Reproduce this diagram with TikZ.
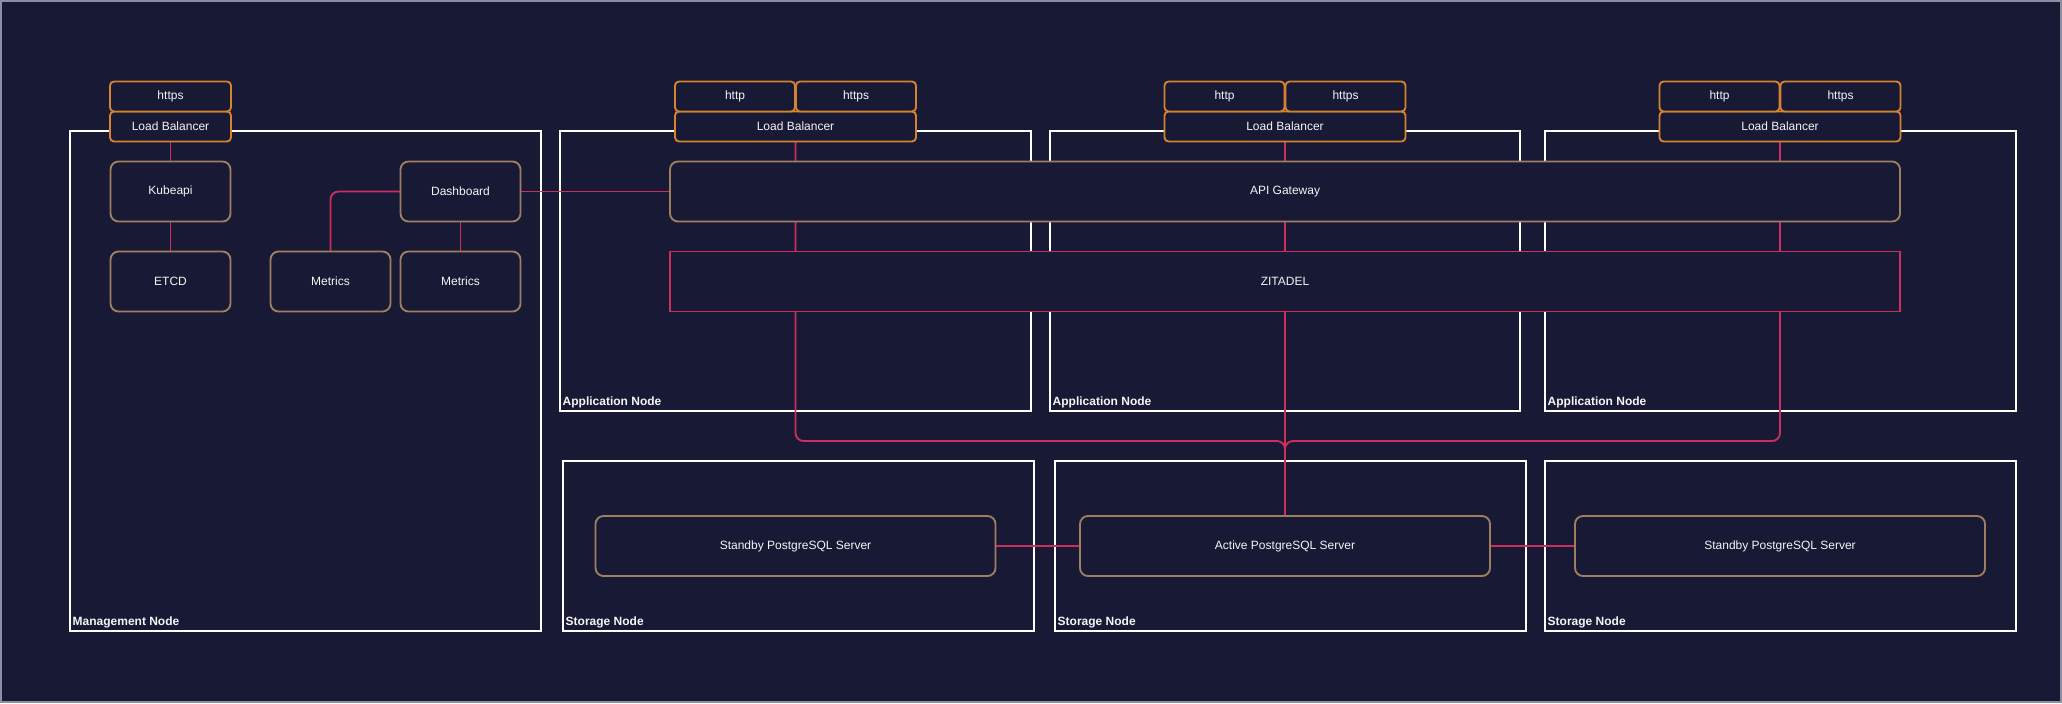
\documentclass[tikz,border=0pt]{standalone}
\usepackage{fontspec}
\setmainfont{Liberation Sans}
\usetikzlibrary{positioning}
\definecolor{navy}{RGB}{24,25,52}
\definecolor{framegray}{RGB}{140,143,161}
\definecolor{lborange}{RGB}{213,131,47}
\definecolor{comptan}{RGB}{158,127,96}
\definecolor{linkred}{RGB}{204,47,92}
\definecolor{textwhite}{RGB}{245,245,245}
\pgfdeclarelayer{back}
\pgfdeclarelayer{links}
\pgfsetlayers{back,links,main}

\begin{document}
\begin{tikzpicture}[x=0.75pt, y=-0.75pt,
   every node/.style={text=textwhite, font=\fontsize{9}{11}\selectfont, outer sep=0pt},
   lbbox/.style={draw=lborange, fill=navy, line width=1.4pt, rounded corners=3pt, minimum height=22.5pt, inner sep=0pt},
   comp/.style={draw=comptan, fill=navy, line width=1.4pt, rounded corners=6pt, minimum width=90pt, minimum height=45pt},
   zitbox/.style={draw=linkred, fill=navy, line width=1.4pt, minimum width=922.5pt, minimum height=45pt},
   group/.style={draw=white, line width=1.5pt},
   grouplabel/.style={anchor=south west, inner sep=2pt, font=\fontsize{9}{11}\selectfont\bfseries},
   link/.style={draw=linkred, line width=1.4pt, rounded corners=6pt}]

\useasboundingbox (0,0) rectangle (2062,703);
\begin{pgfonlayer}{back}
\fill[navy] (0,0) rectangle (2062,703);
\draw[framegray, line width=1.5pt] (1,1) rectangle (2061,702);
\draw[group] (70,131) rectangle (541,631);
\draw[group] (560,131) rectangle (1031,411);
\draw[group] (1050,131) rectangle (1520,411);
\draw[group] (1545,131) rectangle (2016,411);
\draw[group] (563,461) rectangle (1034,631);
\draw[group] (1055,461) rectangle (1526,631);
\draw[group] (1545,461) rectangle (2016,631);
\end{pgfonlayer}

\node[grouplabel] (mgmtlabel) at (70,631) {Management Node};
\node[grouplabel] (appalabel) at (560,411) {Application Node};
\node[grouplabel] (appblabel) at (1050,411) {Application Node};
\node[grouplabel] (appclabel) at (1545,411) {Application Node};
\node[grouplabel] (storealabel) at (563,631) {Storage Node};
\node[grouplabel] (storeblabel) at (1055,631) {Storage Node};
\node[grouplabel] (storeclabel) at (1545,631) {Storage Node};

\node[lbbox, minimum width=90.75pt] (lbm) at (170.5,126.5) {Load Balancer};
\node[lbbox, minimum width=90.75pt, anchor=south] (httpsm) at (lbm.north) {https};
\node[comp] (kubeapi) at (170.5,191.5) {Kubeapi};
\node[comp, below=22.5pt of kubeapi] (etcd) {ETCD};
\node[comp] (dashboard) at (460.5,191.5) {Dashboard};
\node[comp, below=22.5pt of dashboard] (metricsb) {Metrics};
\node[comp, left=7.5pt of metricsb] (metricsa) {Metrics};

\node[lbbox, minimum width=180.75pt] (lba) at (795.5,126.5) {Load Balancer};
\node[lbbox, minimum width=90pt, anchor=south west] (httpa) at (lba.north west) {http};
\node[lbbox, minimum width=90pt, anchor=south east] (httpsa) at (lba.north east) {https};
\node[lbbox, minimum width=180.75pt] (lbb) at (1285,126.5) {Load Balancer};
\node[lbbox, minimum width=90pt, anchor=south west] (httpb) at (lbb.north west) {http};
\node[lbbox, minimum width=90pt, anchor=south east] (httpsb) at (lbb.north east) {https};
\node[lbbox, minimum width=180.75pt] (lbc) at (1780,126.5) {Load Balancer};
\node[lbbox, minimum width=90pt, anchor=south west] (httpc) at (lbc.north west) {http};
\node[lbbox, minimum width=90pt, anchor=south east] (httpsc) at (lbc.north east) {https};

\node[comp, minimum width=922.5pt] (gateway) at (1285,191.5) {API Gateway};
\node[zitbox, below=22.5pt of gateway] (zitadel) {ZITADEL};

\node[comp, minimum width=300pt] (standbya) at (795.5,546) {Standby PostgreSQL Server};
\node[comp, minimum width=307.5pt] (active) at (1285,546) {Active PostgreSQL Server};
\node[comp, minimum width=307.5pt] (standbyb) at (1780,546) {Standby PostgreSQL Server};

\coordinate (bus) at (1285,441);
\begin{pgfonlayer}{links}
\draw[link] (lbm.south) -- (kubeapi.north);
\draw[link] (kubeapi.south) -- (etcd.north);
\draw[link] (dashboard.west) -| (metricsa.north);
\draw[link] (dashboard.south) -- (metricsb.north);
\draw[link] (dashboard.east) -- (gateway.west);
\draw[link] (lba.south) |- (bus) -- (active.north);
\draw[link] (lbc.south) |- (bus) -- (active.north);
\draw[link] (lbb.south) -- (active.north);
\draw[link] (standbya.east) -- (active.west);
\draw[link] (active.east) -- (standbyb.west);
\end{pgfonlayer}

\end{tikzpicture}
\end{document}
